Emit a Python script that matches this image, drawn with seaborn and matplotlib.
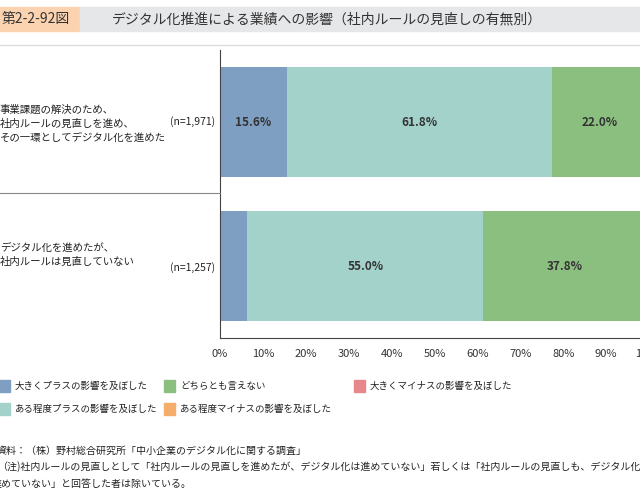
import matplotlib
matplotlib.use("Agg")
import matplotlib.pyplot as plt
from matplotlib.patches import Rectangle
import seaborn as sns
import pandas as pd
import numpy as np

plt.rcParams["font.family"] = "Noto Sans CJK JP"

# data
categories = ["A", "B"]
series_names = ["大きくプラスの影響を及ぼした", "ある程度プラスの影響を及ぼした", "どちらとも言えない",
                "ある程度マイナスの影響を及ぼした", "大きくマイナスの影響を及ぼした"]
big_plus = [15.6, 6.4]
some_plus = [61.8, 55.0]
neutral = [22.0, 37.8]
some_minus = [0.4, 0.4]
big_minus = [0.2, 0.4]
colors = ["#7f9fc2", "#a3d2cb", "#8bbf80", "#f5ad6a", "#e8878b"]

fig = plt.figure(figsize=(6.4, 4.98), dpi=100)
ax = fig.add_axes([220/640, 1-338/498, 429/640, 288/498])

vals = np.array([big_plus, some_plus, neutral, some_minus, big_minus])
cum = vals.cumsum(axis=0)
for i in range(len(vals) - 1, -1, -1):
    df = pd.DataFrame({"cat": categories, "v": cum[i]})
    sns.barplot(data=df, x="v", y="cat", orient="h", color=colors[i], width=0.76,
                saturation=1, ax=ax, linewidth=0)

# labels
for j in range(2):
    for i in range(3):
        if vals[i][j] >= 10:
            ax.text(cum[i][j] - vals[i][j] / 2, j, f"{vals[i][j]:.1f}%", ha="center", va="center",
                    fontsize=8.5, fontweight="bold", color="#333333")

ax.set_xlim(0, 100)
ax.set_ylim(1.5, -0.5)
ax.set_xticks(range(0, 101, 10))
ax.set_xticklabels([f"{t}%" for t in range(0, 101, 10)], fontsize=8, color="#333333")
ax.set_yticks([])
ax.set_xlabel("")
ax.set_ylabel("")
for s in ["top", "right"]:
    ax.spines[s].set_visible(False)
ax.spines["left"].set_color("#444444")
ax.spines["bottom"].set_color("#444444")
ax.tick_params(axis="x", length=0, pad=8)

# left category texts
fs = 7.5
fig.text(0, 1-105/498, "事業課題の解決のため、\n社内ルールの見直しを進め、\nその一環としてデジタル化を進めた",
         fontsize=fs, va="top", linespacing=1.45, color="#222222")
fig.text(215/640, 1-122/498, "(n=1,971)", fontsize=fs, ha="right", va="center", color="#222222")
fig.text(0, 1-243/498, "デジタル化を進めたが、\n社内ルールは見直していない",
         fontsize=fs, va="top", linespacing=1.45, color="#222222")
fig.text(215/640, 1-268/498, "(n=1,257)", fontsize=fs, ha="right", va="center", color="#222222")
fig.add_artist(plt.Line2D([0, 220/640], [1-193/498, 1-193/498], color="#888888", lw=0.8))
fig.add_artist(plt.Line2D([0, 1], [1-45/498, 1-45/498], color="#dddddd", lw=1))

# title
fig.add_artist(Rectangle((0, 1-31/498), 80/640, 24/498, color="#fcd3b0", transform=fig.transFigure))
fig.add_artist(Rectangle((80/640, 1-31/498), 560/640, 24/498, color="#e6e7e9", transform=fig.transFigure))
fig.text(2/640, 1-19/498, "第2-2-92図", fontsize=10, va="center", color="#333333")
fig.text(112/640, 1-19/498, "デジタル化推進による業績への影響（社内ルールの見直しの有無別）",
         fontsize=10, va="center", color="#333333")

# legend
leg_items = [(0, 386, series_names[0], colors[0]), (0, 409, series_names[1], colors[1]),
             (165, 386, series_names[2], colors[2]), (165, 409, series_names[3], colors[3]),
             (355, 386, series_names[4], colors[4])]
for lx, ly, name, c in leg_items:
    fig.add_artist(Rectangle(((lx - 1)/640, 1-(ly+6)/498), 11/640, 12/498, color=c, transform=fig.transFigure))
    fig.text((lx + 15)/640, 1-ly/498, name, fontsize=6.8, va="center", color="#222222")

fig.text(-3/640, 1-451/498, "資料：（株）野村総合研究所「中小企業のデジタル化に関する調査」", fontsize=7.2, va="center", color="#222222")
fig.text(-3/640, 1-467/498, "（注)社内ルールの見直しとして「社内ルールの見直しを進めたが、デジタル化は進めていない」若しくは「社内ルールの見直しも、デジタル化も進",
         fontsize=7.2, va="center", color="#222222")
fig.text(-8/640, 1-484/498, "進めていない」と回答した者は除いている。", fontsize=7.2, va="center", color="#222222")

fig.savefig("out.png", dpi=100)
